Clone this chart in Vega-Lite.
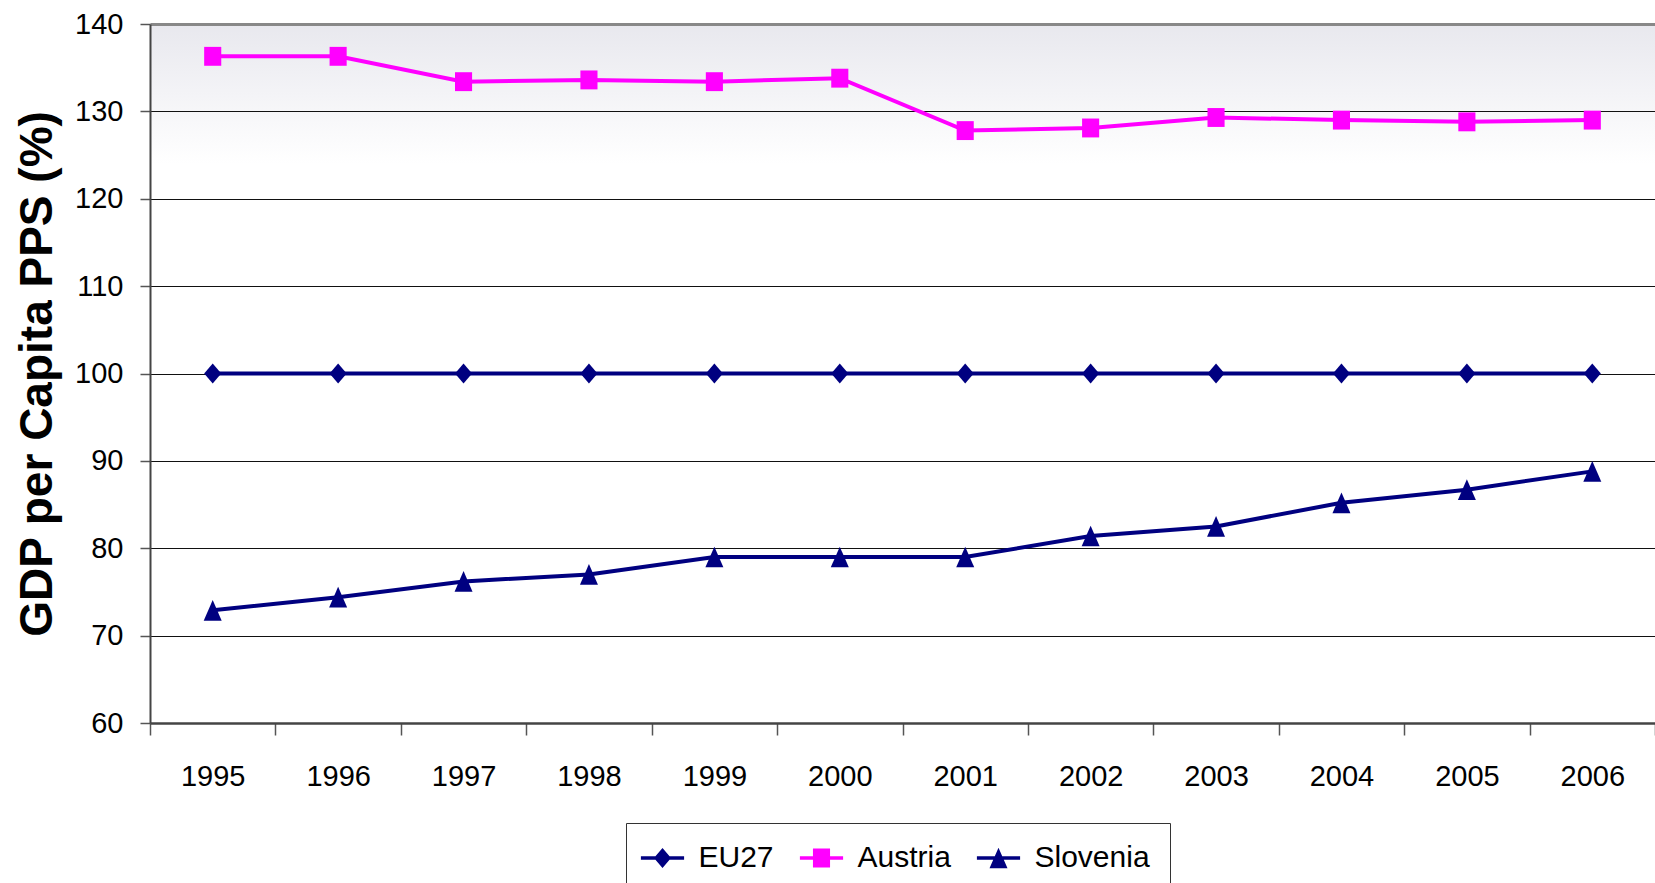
{
  "$schema": "https://vega.github.io/schema/vega-lite/v6.json",
  "width": 1505,
  "height": 699,
  "autosize": {"type": "none"},
  "padding": {"left": 150, "top": 24, "right": 0, "bottom": 160},
  "background": "#ffffff",
  "config": {
    "font": "Liberation Sans",
    "view": {
      "stroke": null,
      "fill": {
        "gradient": "linear",
        "x1": 0, "y1": 0, "x2": 0, "y2": 1,
        "stops": [
          {"offset": 0, "color": "#e8e8ee"},
          {"offset": 0.2, "color": "#ffffff"},
          {"offset": 1, "color": "#ffffff"}
        ]
      }
    }
  },
  "data": {
    "values": [
      {"year": "1995", "series": "EU27", "value": 100},
      {"year": "1996", "series": "EU27", "value": 100},
      {"year": "1997", "series": "EU27", "value": 100},
      {"year": "1998", "series": "EU27", "value": 100},
      {"year": "1999", "series": "EU27", "value": 100},
      {"year": "2000", "series": "EU27", "value": 100},
      {"year": "2001", "series": "EU27", "value": 100},
      {"year": "2002", "series": "EU27", "value": 100},
      {"year": "2003", "series": "EU27", "value": 100},
      {"year": "2004", "series": "EU27", "value": 100},
      {"year": "2005", "series": "EU27", "value": 100},
      {"year": "2006", "series": "EU27", "value": 100},
      {"year": "1995", "series": "Austria", "value": 136.3},
      {"year": "1996", "series": "Austria", "value": 136.3},
      {"year": "1997", "series": "Austria", "value": 133.4},
      {"year": "1998", "series": "Austria", "value": 133.6},
      {"year": "1999", "series": "Austria", "value": 133.4},
      {"year": "2000", "series": "Austria", "value": 133.8},
      {"year": "2001", "series": "Austria", "value": 127.8},
      {"year": "2002", "series": "Austria", "value": 128.1},
      {"year": "2003", "series": "Austria", "value": 129.3},
      {"year": "2004", "series": "Austria", "value": 129.0},
      {"year": "2005", "series": "Austria", "value": 128.8},
      {"year": "2006", "series": "Austria", "value": 129.0},
      {"year": "1995", "series": "Slovenia", "value": 72.9},
      {"year": "1996", "series": "Slovenia", "value": 74.4},
      {"year": "1997", "series": "Slovenia", "value": 76.2},
      {"year": "1998", "series": "Slovenia", "value": 77.0},
      {"year": "1999", "series": "Slovenia", "value": 79.0},
      {"year": "2000", "series": "Slovenia", "value": 79.0},
      {"year": "2001", "series": "Slovenia", "value": 79.0},
      {"year": "2002", "series": "Slovenia", "value": 81.4},
      {"year": "2003", "series": "Slovenia", "value": 82.5},
      {"year": "2004", "series": "Slovenia", "value": 85.2},
      {"year": "2005", "series": "Slovenia", "value": 86.7},
      {"year": "2006", "series": "Slovenia", "value": 88.8}
    ]
  },
  "encoding": {
    "x": {
      "field": "year",
      "type": "ordinal",
      "scale": {"type": "band", "paddingInner": 0, "paddingOuter": 0},
      "axis": {
        "title": null,
        "labelAngle": 0,
        "labelFont": "Liberation Sans",
        "labelFontSize": 29,
        "labelColor": "#000000",
        "labelPadding": 27,
        "tickBand": "extent",
        "tickSize": 12,
        "tickColor": "#555555",
        "tickWidth": 1.5,
        "domainColor": "#444444",
        "domainWidth": 2.5,
        "grid": false
      }
    },
    "y": {
      "field": "value",
      "type": "quantitative",
      "scale": {"domain": [60, 140], "nice": false, "zero": false},
      "axis": {
        "title": "GDP per Capita PPS (%)",
        "titleFont": "Liberation Sans",
        "titleFontWeight": "bold",
        "titleFontSize": 46,
        "titleColor": "#000000",
        "titleX": -113,
        "titleY": 349.5,
        "titleBaseline": "middle",
        "values": [60, 70, 80, 90, 100, 110, 120, 130, 140],
        "labelFont": "Liberation Sans",
        "labelFontSize": 29,
        "labelColor": "#000000",
        "labelPadding": 17,
        "tickSize": 10,
        "tickColor": "#555555",
        "tickWidth": 1.5,
        "domainColor": "#444444",
        "domainWidth": 2,
        "grid": true,
        "gridColor": {"condition": {"test": "datum.value === 140", "value": "#888888"}, "value": "#111111"},
        "gridWidth": {"condition": {"test": "datum.value === 140", "value": 3}, "value": 1},
        "gridOpacity": 1
      }
    }
  },
  "layer": [
    {
      "mark": {"type": "line", "strokeWidth": 4},
      "encoding": {
        "color": {
          "field": "series",
          "scale": {"domain": ["EU27", "Austria", "Slovenia"], "range": ["#000080", "#ff00ff", "#000080"]},
          "legend": null
        }
      }
    },
    {
      "mark": {"type": "point", "filled": true, "opacity": 1, "size": 324, "strokeWidth": 0},
      "encoding": {
        "color": {
          "field": "series",
          "scale": {"domain": ["EU27", "Austria", "Slovenia"], "range": ["#000080", "#ff00ff", "#000080"]},
          "legend": null
        },
        "shape": {
          "field": "series",
          "scale": {"domain": ["EU27", "Austria", "Slovenia"], "range": ["M0,-1.1L0.95,0L0,1.1L-0.95,0Z", "M-0.95,-1.05H0.95V1.05H-0.95Z", "M0,-1.15L1,1.15L-1,1.15Z"]},
          "legend": null
        }
      }
    },
    {
      "transform": [{"filter": "datum.value < 0"}],
      "mark": {"type": "point", "filled": true, "opacity": 1, "size": 324, "strokeWidth": 0},
      "encoding": {
        "color": {
          "field": "series",
          "scale": {"domain": ["EU27", "Austria", "Slovenia"], "range": ["#000080", "#ff00ff", "#000080"]},
          "legend": {
            "title": null,
            "orient": "none",
            "legendX": 476,
            "legendY": 799,
            "direction": "horizontal",
            "labelFont": "Liberation Sans",
            "labelFontSize": 30,
            "labelColor": "#000000",
            "strokeColor": "#333333",
            "fillColor": "#ffffff",
            "padding": 20,
            "symbolSize": 324,
            "symbolOffset": 1.5,
            "labelOffset": 21,
            "columnPadding": 25,
            "symbolStrokeWidth": 0,
            "symbolOpacity": 1
          }
        },
        "shape": {
          "field": "series",
          "scale": {"domain": ["EU27", "Austria", "Slovenia"], "range": ["M-2.4,-0.2H2.4V0.2H-2.4Z M0,-1.1L0.95,0L0,1.1L-0.95,0Z", "M-2.4,-0.2H2.4V0.2H-2.4Z M-0.95,-1.05H0.95V1.05H-0.95Z", "M-2.4,-0.2H2.4V0.2H-2.4Z M0,-1.15L1,1.15L-1,1.15Z"]},
          "legend": {
            "title": null,
            "orient": "none",
            "legendX": 476,
            "legendY": 799,
            "direction": "horizontal",
            "labelFont": "Liberation Sans",
            "labelFontSize": 30,
            "labelColor": "#000000",
            "strokeColor": "#333333",
            "fillColor": "#ffffff",
            "padding": 20,
            "symbolSize": 324,
            "symbolOffset": 1.5,
            "labelOffset": 21,
            "columnPadding": 25,
            "symbolStrokeWidth": 0,
            "symbolOpacity": 1
          }
        }
      }
    }
  ],
  "resolve": {"scale": {"color": "independent", "shape": "independent"}}
}
